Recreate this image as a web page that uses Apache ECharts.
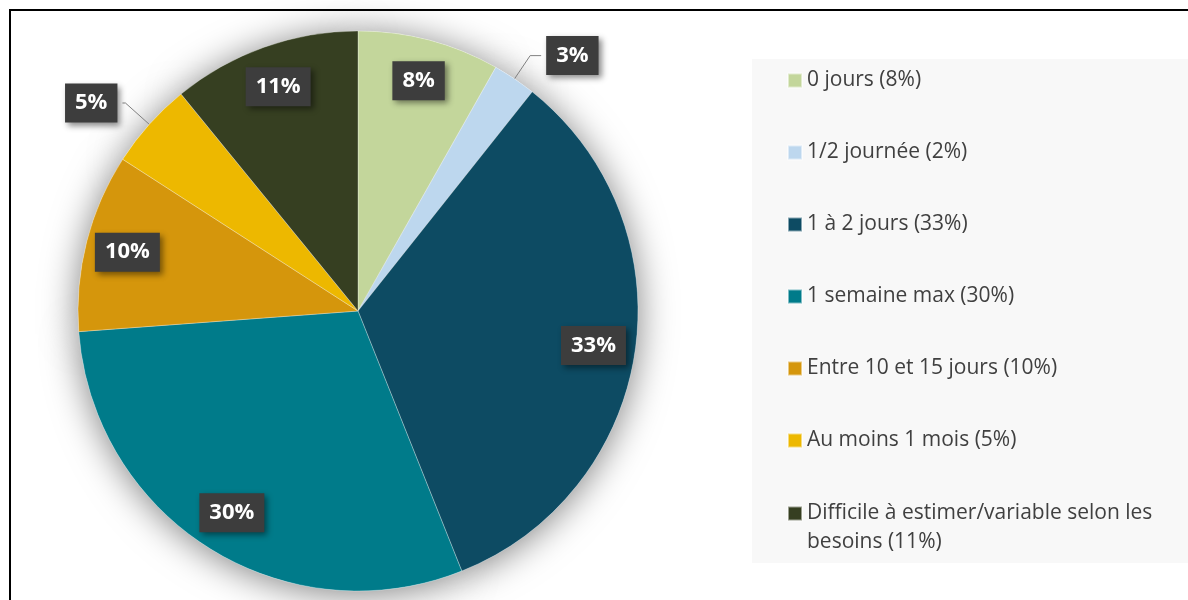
<!DOCTYPE html>
<html lang="fr">
<head>
<meta charset="UTF-8">
<title>Durée estimée</title>
<script src="https://cdn.jsdelivr.net/npm/echarts@6/dist/echarts.min.js"></script>
<style>
  html, body { margin: 0; padding: 0; background: #ffffff; }
  #chart { width: 1188px; height: 600px; }
</style>
</head>
<body>
<div id="chart"></div>
<script>
// données (parts en %)
const categories = [
    '0 jours (8%)',
    '1/2 journée (2%)',
    '1 à 2 jours (33%)',
    '1 semaine max (30%)',
    'Entre 10 et 15 jours (10%)',
    'Au moins 1 mois (5%)',
    'Difficile à estimer/variable selon les besoins (11%)'
];
const values = [8.2, 2.5, 33.3, 29.9, 10.3, 5.0, 10.9];
const colors = ['#C3D69B', '#BDD7EE', '#0D4B63', '#007B8A', '#D5960C', '#EDB800', '#363F21'];
// étiquettes placées à l'extérieur (petites parts) et longueur des traits de rappel
const outsideLabel = [false, true, false, false, false, true, false];
const leaderLen = [0, 28, 0, 0, 0, 32, 0];
const leaderLen2 = [0, 11, 0, 0, 0, 3, 0];

const center = [358, 311];
const radius = 280;

const labelBox = {
    color: '#ffffff',
    fontFamily: 'Open Sans',
    fontWeight: 'bold',
    fontSize: 22,
    backgroundColor: '#3d3d3d',
    padding: [9, 10, 8, 10],
    shadowColor: 'rgba(0,0,0,0.45)',
    shadowBlur: 6,
    shadowOffsetX: 3,
    shadowOffsetY: 3,
    formatter: function (p) { return Math.round(p.value) + '%'; }
};

const legendText = {
    color: '#404040',
    fontFamily: 'Open Sans',
    fontSize: 21,
    lineHeight: 29,
    width: 370,
    overflow: 'break'
};

const legendBase = {
    orient: 'vertical',
    left: 787,
    padding: 0,
    icon: 'rect',
    itemWidth: 14,
    itemHeight: 14,
    itemGap: 43,
    selectedMode: false,
    textStyle: legendText
};

let option = {
    backgroundColor: '#ffffff',
    animation: false,
    graphic: [
        { type: 'rect', z: -10, shape: { x: 10, y: 10, width: 1200, height: 620 },
          style: { fill: '#ffffff', stroke: '#000000', lineWidth: 2 } },
        { type: 'rect', z: -5, shape: { x: 752, y: 59, width: 436, height: 504 },
          style: { fill: '#f8f8f8' } }
    ],
    legend: [
        Object.assign({}, legendBase, { top: 66, data: categories.slice(0, 6) }),
        Object.assign({}, legendBase, {
            top: 470,
            data: categories.slice(6),
            formatter: function (name) { return '\n' + name; }
        })
    ],
    series: [
        {
            name: 'parts',
            type: 'pie',
            z: 3,
            center: center,
            radius: [0, radius],
            startAngle: 90,
            avoidLabelOverlap: false,
            emphasis: { disabled: true },
            itemStyle: { borderColor: 'rgba(255,255,255,0.5)', borderWidth: 0.6 },
            label: Object.assign({ position: 'outside' }, labelBox),
            labelLine: { smooth: false, lineStyle: { color: '#808080', width: 1 } },
            data: categories.map(function (n, i) {
                return {
                    name: n,
                    value: values[i],
                    itemStyle: { color: colors[i] },
                    label: { show: outsideLabel[i] },
                    labelLine: { show: outsideLabel[i], length: leaderLen[i], length2: leaderLen2[i] }
                };
            })
        },
        {
            // ombre portée sous le camembert
            name: 'ombre',
            type: 'pie',
            z: 1,
            silent: true,
            legendHoverLink: false,
            center: center,
            radius: [0, radius],
            startAngle: 90,
            label: { show: false },
            labelLine: { show: false },
            itemStyle: { color: '#ffffff', shadowBlur: 36, shadowColor: 'rgba(0,0,0,0.5)', shadowOffsetY: 3 },
            data: categories.map(function (n, i) { return { name: n, value: values[i] }; })
        },
        {
            // étiquettes intérieures, vers le bord
            name: 'etiquettes',
            type: 'pie',
            z: 4,
            silent: true,
            legendHoverLink: false,
            center: center,
            radius: [190, radius],
            startAngle: 90,
            avoidLabelOverlap: false,
            itemStyle: { color: 'rgba(0,0,0,0)' },
            label: Object.assign({ position: 'inside', rotate: 0 }, labelBox),
            labelLine: { show: false },
            data: categories.map(function (n, i) {
                return { name: n, value: values[i], label: { show: !outsideLabel[i] } };
            })
        }
    ]
};

let chart = echarts.init(document.getElementById('chart'));
chart.setOption(option);
</script>
</body>
</html>
